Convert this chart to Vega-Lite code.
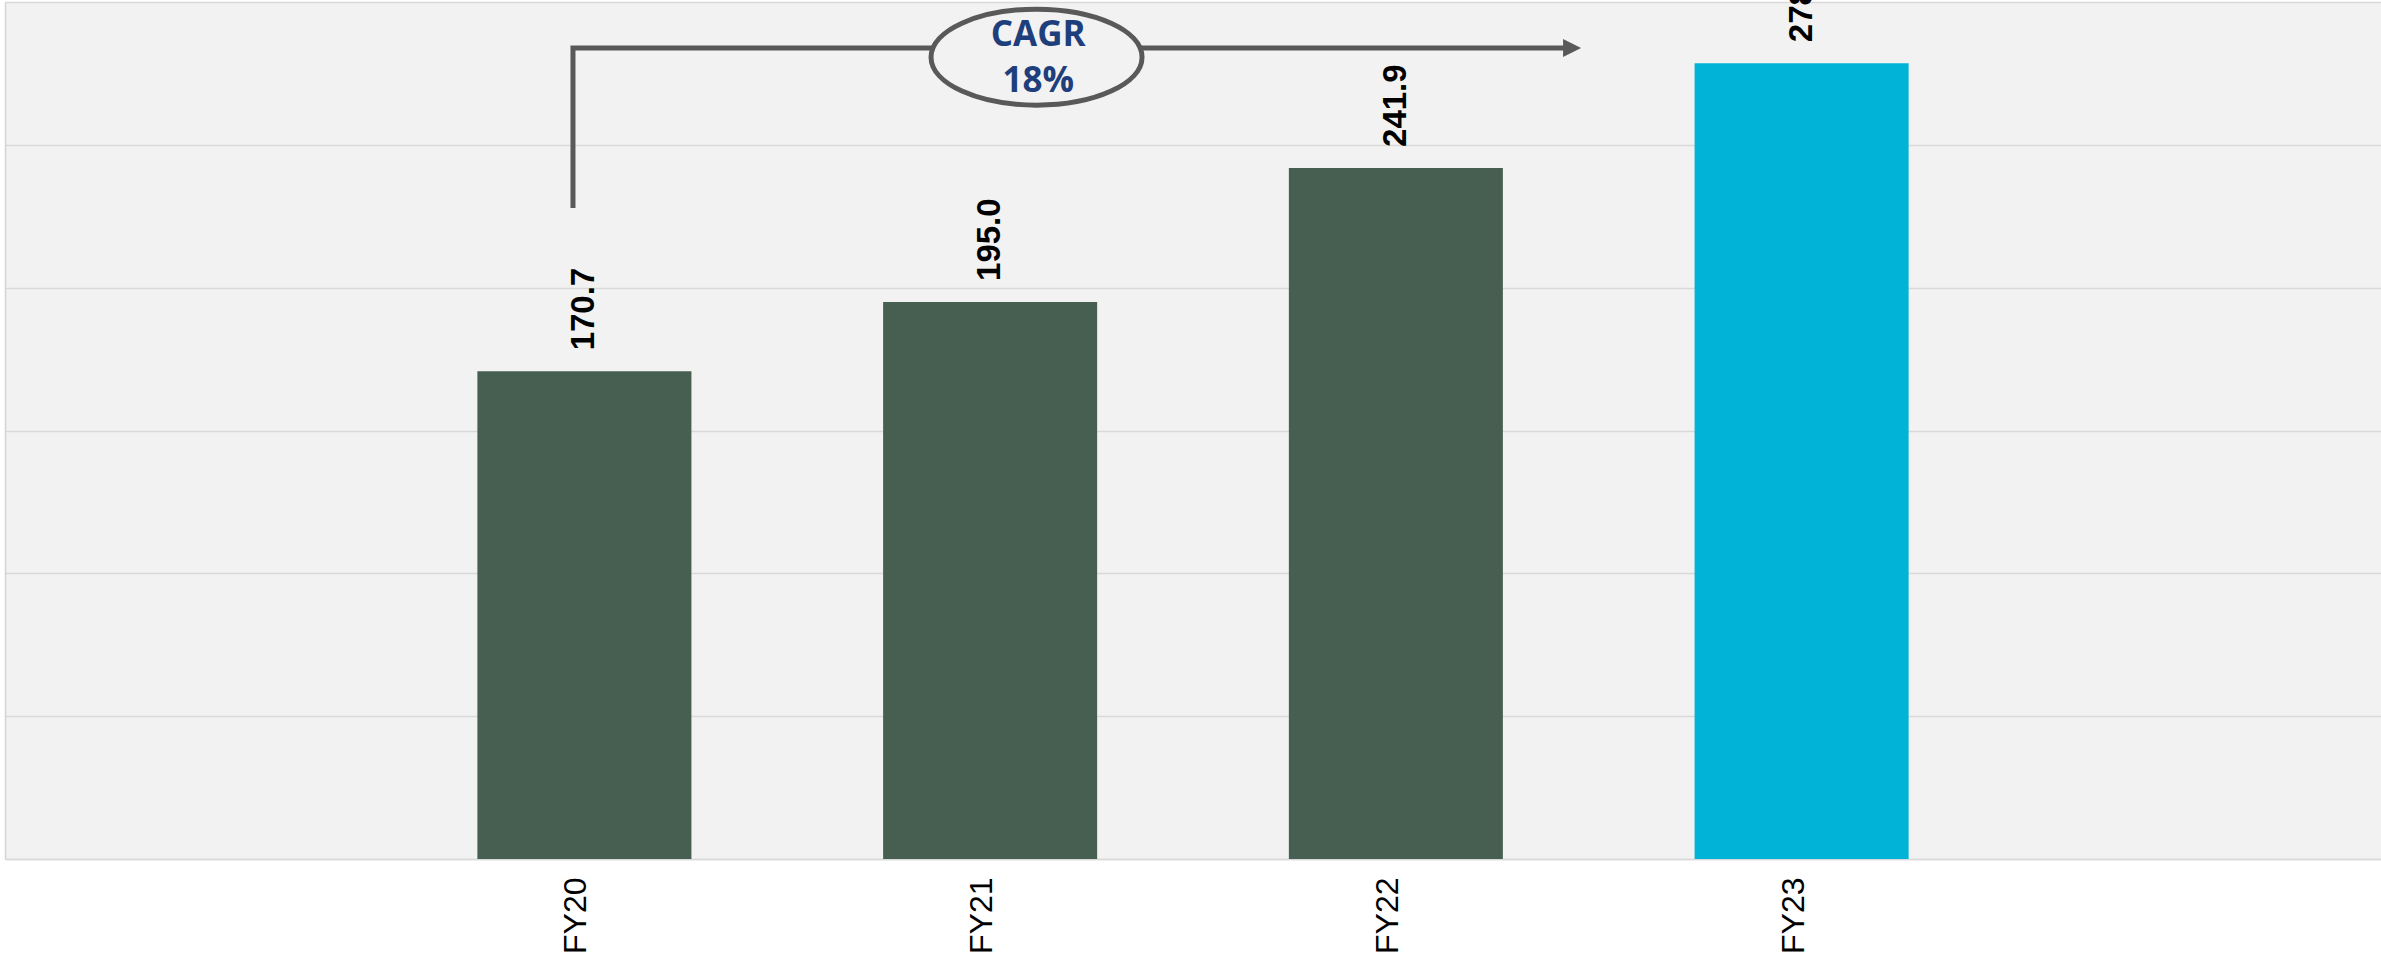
{
  "$schema": "https://vega.github.io/schema/vega-lite/v6.json",
  "autosize": {"type": "none"},
  "padding": {"left": 5, "top": 2, "right": 0, "bottom": 94},
  "width": 2376,
  "height": 857,
  "background": "white",
  "config": {"view": {"fill": "#F2F2F2", "stroke": null}},
  "datasets": {
    "bars": [
      {"year": "FY20", "value": 170.7, "kind": "hist"},
      {"year": "FY21", "value": 195.0, "kind": "hist"},
      {"year": "FY22", "value": 241.9, "kind": "hist"},
      {"year": "FY23", "value": 278.6, "kind": "latest"}
    ],
    "path": [
      {"order": 1, "pos": -0.0296, "v": 227.9},
      {"order": 2, "pos": -0.0296, "v": 283.9},
      {"order": 3, "pos": 2.416, "v": 283.9}
    ],
    "arrow": [{"pos": 2.433, "v": 283.9}],
    "ellipse": [{"pos": 1.113, "v": 280.7}],
    "cagr": [
      {"pos": 1.117, "v": 288.6, "label": "CAGR"},
      {"pos": 1.117, "v": 272.4, "label": "18%"}
    ]
  },
  "layer": [
    {
      "data": {"name": "bars"},
      "layer": [
        {
          "mark": {"type": "bar", "width": {"band": 0.5275}},
          "encoding": {
            "x": {
              "field": "year", "type": "nominal",
              "scale": {"paddingInner": 0, "paddingOuter": 0.928},
              "axis": {
                "title": null, "labelAngle": 270, "labelAlign": "right", "labelBaseline": "middle",
                "labelFont": "Liberation Sans", "labelFontSize": 32, "labelColor": "black",
                "ticks": false, "labelPadding": 18, "labelOffset": -8,
                "domainColor": "#D9D9D9", "domainWidth": 1.5
              }
            },
            "y": {
              "field": "value", "type": "quantitative",
              "scale": {"domain": [0, 300], "nice": false},
              "axis": {
                "title": null, "labels": false, "ticks": false,
                "domain": true, "domainColor": "#D4D4D4", "domainWidth": 1.5,
                "grid": true, "gridColor": "#D9D9D9", "gridWidth": 1.5,
                "values": [0, 50, 100, 150, 200, 250, 300]
              }
            },
            "color": {
              "field": "kind", "type": "nominal",
              "scale": {"domain": ["hist", "latest"], "range": ["#465F51", "#00B3D7"]},
              "legend": null
            }
          }
        },
        {
          "mark": {
            "type": "text", "angle": 270, "align": "left", "baseline": "middle", "dx": 21,
            "font": "Liberation Sans", "fontWeight": "bold", "fontSize": 33, "color": "black"
          },
          "encoding": {
            "x": {"field": "year", "type": "nominal"},
            "y": {"field": "value", "type": "quantitative"},
            "text": {"field": "value", "type": "quantitative", "format": ".1f"}
          }
        }
      ]
    },
    {
      "layer": [
        {
          "data": {"name": "path"},
          "mark": {"type": "line", "color": "#595959", "strokeWidth": 5, "strokeJoin": "miter", "strokeCap": "butt"},
          "encoding": {
            "x": {"field": "pos", "type": "quantitative", "scale": {"domain": [-1.4296, 4.4269], "nice": false, "zero": false}, "axis": null},
            "y": {"field": "v", "type": "quantitative"},
            "order": {"field": "order", "type": "quantitative"}
          }
        },
        {
          "data": {"name": "arrow"},
          "mark": {"type": "point", "shape": "M -1 -1 L 1 0 L -1 1 Z", "size": 324, "filled": true, "fill": "#595959", "stroke": null, "opacity": 1},
          "encoding": {
            "x": {"field": "pos", "type": "quantitative", "axis": null},
            "y": {"field": "v", "type": "quantitative"}
          }
        },
        {
          "data": {"name": "ellipse"},
          "mark": {
            "type": "point", "shape": "M -1 0 A 1 0.455 0 1 1 1 0 A 1 0.455 0 1 1 -1 0 Z",
            "size": 44521, "filled": true, "fill": "#F2F2F2", "stroke": "#595959", "strokeWidth": 5,
            "opacity": 1, "fillOpacity": 1, "strokeOpacity": 1
          },
          "encoding": {
            "x": {"field": "pos", "type": "quantitative", "axis": null},
            "y": {"field": "v", "type": "quantitative"}
          }
        },
        {
          "data": {"name": "cagr"},
          "mark": {"type": "text", "font": "Open Sans", "fontWeight": "bold", "fontSize": 35, "color": "#1E3F7B", "align": "center", "baseline": "middle"},
          "encoding": {
            "x": {"field": "pos", "type": "quantitative", "axis": null},
            "y": {"field": "v", "type": "quantitative"},
            "text": {"field": "label", "type": "nominal"}
          }
        }
      ]
    }
  ],
  "resolve": {"scale": {"x": "independent"}}
}
